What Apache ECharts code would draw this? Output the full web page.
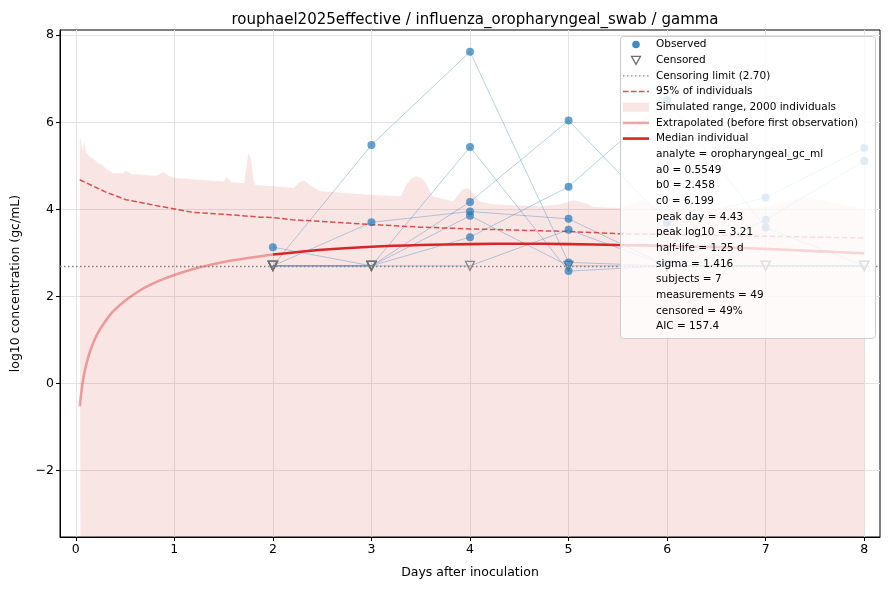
<!DOCTYPE html>
<html><head><meta charset="utf-8">
<script src="https://cdn.jsdelivr.net/npm/echarts@6/dist/echarts.min.js"></script>
<style>html,body{margin:0;padding:0;background:#fff}#c{width:889px;height:590px}</style>
</head><body><div id="c"></div>
<script>
// ---- data ----
const days = [2, 3, 4, 5, 6, 7, 8];
const censorLimit = 2.70;
// null = censored measurement (plotted at the censoring limit)
const subject1 = [null, 5.48, 7.62, 2.78, null, null, null];
const subject2 = [null, null, 5.43, 2.58, null, null, null];
const subject3 = [null, null, 4.17, 6.04, 3.69, 4.27, 5.41];
const subject4 = [null, 3.70, 3.95, 3.78, null, 3.76, 5.11];
const subject5 = [3.13, null, 3.85, null, null, null, null];
const subject6 = [null, null, 3.36, 4.52, 6.51, 3.58, null];
const subject7 = [null, null, null, 3.53, null, null, null];
const subjects = [subject1, subject2, subject3, subject4, subject5, subject6, subject7];

const extrapX = [0.04, 0.045, 0.05, 0.06, 0.07, 0.08, 0.09, 0.10, 0.12, 0.15, 0.20, 0.25, 0.30, 0.35, 0.40, 0.50, 0.60, 0.70, 0.85, 1.00, 1.25, 1.50, 1.75, 2.00];
const extrapY = [-0.53, -0.43, -0.32, -0.14, 0.02, 0.15, 0.27, 0.37, 0.55, 0.77, 1.05, 1.26, 1.43, 1.58, 1.70, 1.90, 2.06, 2.20, 2.36, 2.49, 2.66, 2.79, 2.88, 2.96];

const medianX = [2.0, 2.5, 3.0, 3.5, 4.0, 4.5, 5.0, 5.5, 6.0, 6.5, 7.0, 7.5, 8.0];
const medianY = [2.96, 3.07, 3.14, 3.18, 3.20, 3.21, 3.20, 3.18, 3.16, 3.13, 3.09, 3.04, 2.99];

const p95X = [0.04, 0.18, 0.30, 0.51, 0.85, 1.19, 1.53, 1.87, 2.0, 2.2, 2.5, 3.0, 3.5, 4.0, 4.5, 5.0, 5.5, 6.0, 6.5, 7.0, 7.5, 8.0];
const p95Y = [4.68, 4.53, 4.40, 4.22, 4.07, 3.93, 3.88, 3.82, 3.81, 3.76, 3.72, 3.65, 3.59, 3.55, 3.52, 3.49, 3.44, 3.42, 3.40, 3.38, 3.36, 3.34];

const simX = [0.04, 0.047, 0.058, 0.068, 0.085, 0.108, 0.142, 0.176, 0.227, 0.26, 0.31, 0.38, 0.48, 0.51, 0.565, 0.82, 0.89, 0.95, 1.005, 1.50, 1.53, 1.58, 1.71, 1.73, 1.75, 1.765, 1.78, 1.80, 1.82, 2.00, 2.21, 2.27, 2.32, 2.39, 2.48, 3.00, 3.30, 3.35, 3.40, 3.46, 3.52, 3.57, 3.62, 3.83, 3.92, 3.98, 4.03, 4.10, 4.24, 4.71, 4.91, 5.05, 5.18, 5.25, 5.52, 5.73, 5.90, 6.50, 7.00, 7.40, 7.60, 8.00];
const simY = [5.55, 5.64, 5.60, 5.33, 5.54, 5.29, 5.21, 5.17, 5.06, 5.04, 4.92, 4.83, 4.83, 4.89, 4.81, 4.77, 4.85, 4.76, 4.72, 4.64, 4.74, 4.62, 4.60, 4.95, 5.28, 5.31, 5.15, 4.70, 4.56, 4.53, 4.49, 4.62, 4.66, 4.53, 4.42, 4.33, 4.30, 4.55, 4.70, 4.76, 4.70, 4.52, 4.30, 4.18, 4.45, 4.49, 4.37, 4.18, 4.11, 4.07, 4.11, 4.21, 4.14, 4.05, 4.03, 4.22, 4.07, 4.02, 4.05, 4.28, 4.20, 4.00];

const xTicks = [0, 1, 2, 3, 4, 5, 6, 7, 8];
const yTicks = [-2, 0, 2, 4, 6, 8];

const legendSeriesNames = ['Observed', 'Censored', 'Censoring limit (2.70)', '95% of individuals',
  'Simulated range, 2000 individuals', 'Extrapolated (before first observation)', 'Median individual'];
const legendNotes = ['analyte = oropharyngeal_gc_ml', 'a0 = 0.5549', 'b0 = 2.458', 'c0 = 6.199',
  'peak day = 4.43', 'peak log10 = 3.21', 'half-life = 1.25 d', 'sigma = 1.416', 'subjects = 7',
  'measurements = 49', 'censored = 49%', 'AIC = 157.4'];

// ---- styles ----
const FONT = 'DejaVu Sans';
const BLUE = 'rgba(31,119,180,0.85)';
const LINEBLUE = 'rgba(31,119,180,0.33)';
const RED = '#d62728';
const RED95 = 'rgba(214,39,40,0.8)';
const REDLIGHT = 'rgba(214,39,40,0.4)';
const PINK = 'rgba(214,39,40,0.12)';
const GRAYC = '#707070';

const zip = (xs, ys) => xs.map((x, i) => [x, ys[i]]);

const series = [];
series.push({
  name: legendSeriesNames[4], type: 'line', data: zip(simX, simY), symbol: 'none',
  lineStyle: { width: 0 }, areaStyle: { color: PINK, opacity: 1, origin: 'start' }, z: 1, silent: true
});
subjects.forEach((s, k) => {
  series.push({
    name: 'subject' + (k + 1), type: 'line', symbol: 'none', silent: true, z: 2,
    data: days.map((d, i) => [d, s[i] === null ? censorLimit : s[i]]),
    lineStyle: { color: LINEBLUE, width: 1 }
  });
});
series.push({
  name: legendSeriesNames[3], type: 'line', data: zip(p95X, p95Y), symbol: 'none', z: 3,
  lineStyle: { color: RED95, width: 1.5, type: [5.5, 2.5] }
});
series.push({
  name: legendSeriesNames[5], type: 'line', data: zip(extrapX, extrapY), symbol: 'none', z: 3, smooth: 0.3,
  lineStyle: { color: REDLIGHT, width: 2.6 }
});
series.push({
  name: legendSeriesNames[6], type: 'line', data: zip(medianX, medianY), symbol: 'none', z: 3, smooth: 0.3,
  lineStyle: { color: RED, width: 2.6 }
});
const obs = [], cens = [];
subjects.forEach(s => s.forEach((v, i) => {
  if (v === null) cens.push([days[i], censorLimit]); else obs.push([days[i], v]);
}));
series.push({
  name: legendSeriesNames[1], type: 'scatter', data: cens, symbol: 'triangle', symbolRotate: 180,
  symbolSize: 9, z: 4,
  itemStyle: { color: 'rgba(255,255,255,0)', borderColor: GRAYC, borderWidth: 1.3 },
  markLine: {
    silent: true, symbol: 'none', label: { show: false },
    lineStyle: { color: '#808080', width: 1.3, type: [1.5, 2.5] },
    data: [{ yAxis: censorLimit }]
  }
});
series.push({
  name: legendSeriesNames[0], type: 'scatter', data: obs, symbol: 'circle', symbolSize: 8, z: 5,
  itemStyle: { color: BLUE }
});

// ---- legend (drawn as graphic) ----
const LX = 620, LY = 36, LW = 255, LH = 302;
const row = i => 44.5 + i * 15.68;
const iconL = 623, iconR = 649, iconC = 636, textX = 656;
const g = [];
g.push({ type: 'rect', shape: { x: LX + 0.5, y: LY + 0.5, width: LW, height: LH, r: 3 },
  style: { fill: 'rgba(255,255,255,0.8)', stroke: '#cccccc', lineWidth: 1 }, z: 10 });
g.push({ type: 'circle', shape: { cx: iconC, cy: row(0), r: 3.8 }, style: { fill: BLUE }, z: 11 });
g.push({ type: 'polygon', shape: { points: [[iconC - 4.5, row(1) - 3.8], [iconC + 4.5, row(1) - 3.8], [iconC, row(1) + 4.2]] },
  style: { fill: 'none', stroke: GRAYC, lineWidth: 1.3 }, z: 11 });
g.push({ type: 'line', shape: { x1: iconL, y1: row(2), x2: iconR, y2: row(2) },
  style: { stroke: '#808080', lineWidth: 1.3, lineDash: [1.5, 2.5] }, z: 11 });
g.push({ type: 'line', shape: { x1: iconL, y1: row(3), x2: iconR, y2: row(3) },
  style: { stroke: RED95, lineWidth: 1.5, lineDash: [5.5, 2.5] }, z: 11 });
g.push({ type: 'rect', shape: { x: iconL, y: row(4) - 4.5, width: iconR - iconL, height: 9 },
  style: { fill: PINK }, z: 11 });
g.push({ type: 'line', shape: { x1: iconL, y1: row(5), x2: iconR, y2: row(5) },
  style: { stroke: REDLIGHT, lineWidth: 2.6 }, z: 11 });
g.push({ type: 'line', shape: { x1: iconL, y1: row(6), x2: iconR, y2: row(6) },
  style: { stroke: RED, lineWidth: 2.6 }, z: 11 });
legendSeriesNames.concat(legendNotes).forEach((t, i) => {
  g.push({ type: 'text', x: textX, y: row(i), z: 12,
    style: { text: t, fill: '#000', font: '10.5px "DejaVu Sans"', textVerticalAlign: 'middle', verticalAlign: 'middle' } });
});

const axisCommon = {
  axisLine: { show: true, onZero: false, lineStyle: { color: '#000', width: 1 } },
  splitLine: { show: true, lineStyle: { color: '#e3e3e3', width: 1 } },
};

const chart = echarts.init(document.getElementById('c'), null, { renderer: 'canvas' });
chart.setOption({
  animation: false,
  backgroundColor: '#fff',
  textStyle: { fontFamily: FONT },
  title: {
    text: 'rouphael2025effective / influenza_oropharyngeal_swab / gamma',
    left: 470, top: 8, textAlign: 'center',
    textStyle: { fontFamily: FONT, fontSize: 15, fontWeight: 'normal', color: '#000' }
  },
  grid: { left: 60, right: 9, top: 30, bottom: 53, show: true, borderColor: '#000', borderWidth: 1, backgroundColor: 'transparent' },
  xAxis: Object.assign({}, axisCommon, {
    type: 'value', min: -0.16, max: 8.16,
    name: 'Days after inoculation', nameLocation: 'middle', nameGap: 29,
    nameTextStyle: { fontFamily: FONT, fontSize: 12.5, color: '#000' },
    axisTick: { show: true, length: 4, lineStyle: { color: '#000' }, customValues: xTicks },
    axisLabel: { customValues: xTicks, fontFamily: FONT, fontSize: 12.5, color: '#000', margin: 6 }
  }),
  yAxis: Object.assign({}, axisCommon, {
    type: 'value', min: -3.53, max: 8.12,
    name: 'log10 concentration (gc/mL)', nameLocation: 'middle', nameGap: 38, nameRotate: 90,
    nameTextStyle: { fontFamily: FONT, fontSize: 12.5, color: '#000' },
    axisTick: { show: true, length: 4, lineStyle: { color: '#000' }, customValues: yTicks },
    axisLabel: { customValues: yTicks, fontFamily: FONT, fontSize: 12.5, color: '#000', margin: 6,
      formatter: v => String(v).replace('-', '\u2212') }
  }),
  series: series,
  graphic: { elements: g }
});
</script></body></html>
